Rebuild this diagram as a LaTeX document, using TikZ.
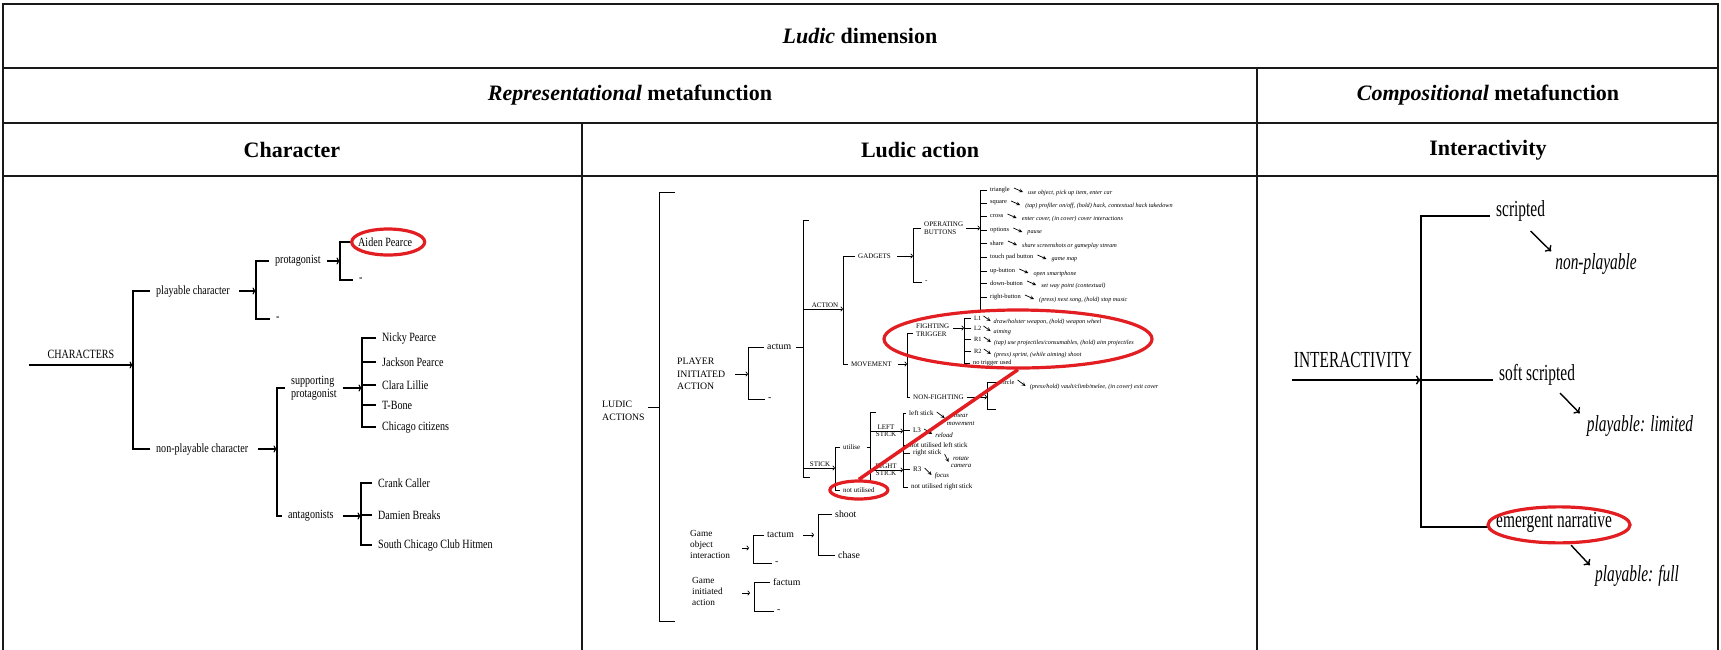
\documentclass[tikz,border=0pt]{standalone}
\usepackage{fontspec}
\setmainfont{Liberation Serif}
\newfontfamily\slimfont[FakeStretch=0.8]{Liberation Serif}
\newfontfamily\slimmerfont[FakeStretch=0.67]{Liberation Serif}
\usetikzlibrary{positioning,shapes.geometric,arrows.meta}
\definecolor{marker}{RGB}{226,30,34}

\tikzset{
  rule/.style={line width=1.8pt,draw=black!90},
  hd/.style={font=\fontsize{22}{25}\selectfont\bfseries},
  lf/.style={anchor=west,inner xsep=6pt,inner ysep=2pt,font=\slimfont\fontsize{12.6}{13.5}\selectfont,align=left},
  rt/.style={anchor=base west,inner xsep=6pt,inner ysep=2pt,font=\slimmerfont\fontsize{23}{26}\selectfont},
  rti/.style={inner sep=2pt,font=\slimmerfont\fontsize{23}{26}\selectfont\itshape},
  big/.style={anchor=west,inner xsep=3pt,inner ysep=1pt,font=\fontsize{9.8}{12.5}\selectfont,align=left},
  caps/.style={anchor=west,inner xsep=3pt,inner ysep=1pt,font=\fontsize{7}{8.5}\selectfont,align=left},
  btn/.style={anchor=west,inner xsep=3pt,inner ysep=.5pt,font=\fontsize{6.4}{7}\selectfont},
  desc/.style={anchor=west,inner sep=1pt,font=\fontsize{6.2}{7}\selectfont\itshape,align=left},
  sdesc/.style={desc,font=\fontsize{6.8}{7.5}\selectfont\itshape},
  stk/.style={anchor=west,inner xsep=3pt,inner ysep=.5pt,font=\fontsize{7}{8}\selectfont},
  brl/.style={line width=1.1pt},
  brm/.style={line width=.7pt},
  brr/.style={line width=1.4pt},
  lar/.style={brl,-{To[length=3.5pt,width=7pt]}},
  mar/.style={brm,-{To[length=2.5pt,width=5pt]}},
  sar/.style={-stealth,line width=.7pt},
  rar/.style={line width=1.4pt,-{To[length=5pt,width=9pt]}},
  ring/.style={draw=marker,line width=3.2pt,ellipse,inner sep=0pt},
}

\begin{document}
\begin{tikzpicture}[x=1pt,y=-1pt]
\fill[white] (0,0) rectangle (1721,649);
\useasboundingbox (0,0) rectangle (1721,649);

% table frame
\draw[rule] (3,660) -- (3,4) -- (1718,4) -- (1718,660);
\foreach \y in {68,123,176} \draw[rule] (3,\y) -- (1718,\y);
\draw[rule] (1257,68) -- (1257,660);
\draw[rule] (582,123) -- (582,660);

\node[hd] (dim) at (860,36) {\textit{Ludic} dimension};
\node[hd] (rep) at (630,95) {\textit{Representational} metafunction};
\node[hd] (comp) at (1488,95) {\textit{Compositional} metafunction};
\node[hd] (chr) at (292,150) {Character};
\node[hd] (lact) at (920,150) {Ludic action};
\node[hd] (intr) at (1488,150) {Interactivity};

% characters
\coordinate (s1) at (133,365);
\coordinate (s2) at (256,0);
\coordinate (s3) at (340,0);
\coordinate (s4) at (277,0);
\coordinate (s5) at (362,0);
\coordinate (s6) at (361,0);
\node[lf,anchor=center] (chars) at (81,354) {CHARACTERS};
\coordinate (cin) at (29,365);
\draw[lar] (cin) -- (s1);

\node[lf] (pc) at (150,291) {playable character};
\node[lf] (npc) at (150,449) {non-playable character};
\draw[brl] (pc.west) -- (pc.west -| s1) -- (npc.west -| s1) -- (npc.west);
\draw[lar] ([xshift=3pt]pc.east) -- (pc.east -| s2);
\draw[lar] ([xshift=4pt]npc.east) -- (npc.east -| s4);

\node[lf] (prot) at (269,261) {protagonist};
\node[lf] (pc0) at (270,319) {-};
\draw[brl] (prot.west) -- (prot.west -| s2) -- (pc0.west -| s2) -- (pc0.west);
\draw[lar] (prot.east) -- (prot.east -| s3);

\node[lf] (aiden) at (352,242) {Aiden Pearce};
\node[lf] (prot0) at (353,280) {-};
\draw[brl] (aiden.west) -- (aiden.west -| s3) -- (prot0.west -| s3) -- (prot0.west);

\node[lf] (sup) at (285,388) {supporting\\protagonist};
\node[lf] (ant) at (282,516) {antagonists};
\draw[brl] (sup.west) -- (sup.west -| s4) -- (ant.west -| s4) -- (ant.west);
\draw[lar] (sup.east) -- (sup.east -| s5);
\draw[lar] ([xshift=3pt]ant.east) -- (ant.east -| s6);

\foreach \y/\who [count=\i] in {338/Nicky Pearce,362/Jackson Pearce,385/Clara Lillie,405/T-Bone,427/Chicago citizens}
  \node[lf] (sp\i) at (376,\y) {\who};
\draw[brl] (sp1.west) -- (sp1.west -| s5) -- (sp5.west -| s5) -- (sp5.west);
\foreach \i in {2,3,4} \draw[brl] (sp\i.west) -- (sp\i.west -| s5);

\foreach \y/\who [count=\i] in {483/Crank Caller,515/Damien Breaks,545/South Chicago Club Hitmen}
  \node[lf] (an\i) at (372,\y) {\who};
\draw[brl] (an1.west) -- (an1.west -| s6) -- (an3.west -| s6) -- (an3.west);
\draw[brl] (an2.west) -- (an2.west -| s6);

% ludic actions
\coordinate (s8) at (659,0);
\coordinate (lt) at (675,192);
\coordinate (lb) at (675,621);
\draw[brm,line width=.9pt] (lt) -- (lt -| s8) -- (lb -| s8) -- (lb);
\node[big] (lud) at (599,411) {LUDIC\\ACTIONS};
\draw[brm] ([yshift=4pt]lud.east) -- ([yshift=4pt]lud.east -| s8);

\node[big] (pia) at (674,374) {PLAYER\\INITIATED\\ACTION};
\coordinate (s9) at (748,0);
\draw[mar] ([xshift=7pt]pia.east) -- (pia.east -| s9);
\node[big] (act) at (764,347) {actum};
\node[big] (act0) at (765,399) {-};
\draw[brm] (act.west) -- (act.west -| s9) -- (act0.west -| s9) -- (act0.west);
\coordinate (s10) at (803,0);
\draw[brm] ([xshift=2pt]act.east) -- (act.east -| s10);
\coordinate (ct) at (809,220);
\coordinate (cb) at (810,477);
\draw[brm] (ct) -- (ct -| s10) -- (cb -| s10) -- (cb);

\coordinate (s11) at (843,0);
\coordinate (ain) at (803,309);
\draw[mar] (ain) -- (ain -| s11);
\node[caps,above] (acl) at (825,309) {ACTION};
\node[caps] (gad) at (855,256) {GADGETS};
\node[caps] (mov) at (848,364) {MOVEMENT};
\draw[brm] (gad.west) -- (gad.west -| s11) -- (mov.west -| s11) -- (mov.west);
\coordinate (s12) at (913,0);
\draw[mar] ([xshift=3pt]gad.east) -- (gad.east -| s12);
\node[caps] (opb) at (921,228) {OPERATING\\BUTTONS};
\node[caps] (gad0) at (922,282) {-};
\draw[brm] (opb.west) -- (opb.west -| s12) -- (gad0.west -| s12) -- (gad0.west);
\coordinate (s13) at (980,0);
\draw[mar] (opb.east) -- (opb.east -| s13);

\foreach \y/\lab/\txt [count=\i] in {
  190/triangle/{use object, pick up item, enter car},
  203/square/{(tap) profiler on/off, (hold) hack, contextual hack takedown},
  216/cross/{enter cover, (in cover) cover interactions},
  230/options/{pause},
  243/share/{share screenshots or gameplay stream},
  257/touch pad button/{game map},
  271/up-button/{open smartphone},
  283/down-button/{set way point (contextual)},
  297/right-button/{(press) next song, (hold) stop music}}
{
  \node[btn] (b\i) at (987,\y) {\lab};
  \node[desc,right=14pt of b\i,yshift=-3pt] (e\i) {\txt};
  \draw[brm] (b\i.west) -- (b\i.west -| s13);
  \draw[sar] ([xshift=1pt,yshift=2pt]b\i.east) -- ([xshift=-4pt,yshift=1pt]e\i.west);
}
\coordinate (bz) at (988,310);
\draw[brm] (b1.west -| s13) -- (bz -| s13) -- (bz);

% movement
\coordinate (s14) at (907,0);
\draw[mar] ([xshift=3pt]mov.east) -- (mov.east -| s14);
\node[caps] (ft) at (913,330) {FIGHTING\\TRIGGER};
\node[caps] (nf) at (910,397) {NON-FIGHTING};
\draw[brm] ([yshift=-3pt]ft.west) -- ([yshift=-3pt]ft.west -| s14) -- (nf.west -| s14) -- (nf.west);
\coordinate (s15) at (964,0);
\draw[mar] ([xshift=1pt,yshift=2pt]ft.east) -- ([yshift=2pt]ft.east -| s15);

\foreach \y/\lab/\txt [count=\i] in {
  318/L1/{draw/holster weapon, (hold) weapon wheel},
  328/L2/{aiming},
  339/R1/{(tap) use projectiles/consumables, (hold) aim projectiles},
  351/R2/{(press) sprint, (while aiming) shoot}}
{
  \node[btn] (t\i) at (971,\y) {\lab};
  \node[desc,right=8pt of t\i,yshift=-4pt] (f\i) {\txt};
  \draw[brm] (t\i.west) -- (t\i.west -| s15);
  \draw[sar] ([xshift=-1pt,yshift=2pt]t\i.east) -- ([xshift=-2pt,yshift=1pt]f\i.west);
}
\node[btn] (ntu) at (970,363) {no trigger used};
\draw[brm] (t1.west -| s15) -- (ntu.west -| s15) -- (ntu.west);

\coordinate (s16) at (987,0);
\draw[mar] (nf.east) -- (nf.east -| s16);
\node[btn] (cir) at (997,382) {circle};
\coordinate (cz) at (996,409);
\draw[brm] (cir.west) -- (cir.west -| s16) -- (cz -| s16) -- (cz);
\node[desc,right=11pt of cir,yshift=-5pt] (ecir) {(press/hold) vault/climb/melee, (in cover) exit cover};
\draw[sar] ([yshift=2pt]cir.east) -- ([xshift=-3pt,yshift=1pt]ecir.west);

% sticks
\coordinate (sin) at (803,468);
\coordinate (s17) at (835,0);
\draw[mar] (sin) -- (sin -| s17);
\node[caps,above] (stl) at (820,468) {STICK};
\node[stk] (ut) at (840,447) {utilise};
\node[stk] (nu) at (840,490) {not utilised};
\draw[brm] (ut.west) -- (ut.west -| s17) -- (nu.west -| s17) -- (nu.west);
\coordinate (s18) at (870,0);
\draw[brm] ([xshift=3pt]ut.east) -- (ut.east -| s18);
\coordinate (st) at (876,412);
\coordinate (sb) at (876,481);
\draw[brm] (st) -- (st -| s18) -- (sb -| s18) -- (sb);
\coordinate (s19) at (903,0);
\coordinate (lin) at (870,431);
\coordinate (rin) at (870,470);
\draw[mar] (lin) -- (lin -| s19);
\draw[mar] (rin) -- (rin -| s19);
\node[stk,above,inner sep=1pt] (lft) at (886,431) {LEFT};
\node[stk,below,inner sep=1pt] (lfs) at (886,431) {STICK};
\node[stk,above,inner sep=1pt] (rgt) at (886,470) {RIGHT};
\node[stk,below,inner sep=1pt] (rgs) at (886,470) {STICK};

\foreach \y/\x/\lab/\nm in {413/906/left stick/ls,430/910/L3/l3,445/907/not utilised left stick/nul,
  453/910/right stick/rs,469/910/R3/r3,487/908/not utilised right stick/nur}
  \node[stk] (\nm) at (\x,\y) {\lab};
\draw[brm] (ls.west) -- (ls.west -| s19) -- (nur.west -| s19) -- (nur.west);
\foreach \nm in {l3,nul,rs,r3} \draw[brm] (\nm.west) -- (\nm.west -| s19);

\node[sdesc,right=9pt of ls,yshift=-6pt] (els) {\hspace*{5pt}linear\\movement};
\node[sdesc,right=10pt of l3,yshift=-5pt] (el3) {reload};
\node[sdesc,right=5pt of rs,yshift=-9pt,align=center] (ers) {rotate\\camera};
\node[sdesc,right=9pt of r3,yshift=-7pt] (er3) {focus};
\draw[sar] ([yshift=1pt]ls.east) -- ([xshift=-1pt,yshift=1pt]els.west);
\draw[sar] ([yshift=1pt]l3.east) -- ([xshift=-2pt,yshift=1pt]el3.west);
\draw[sar] ([yshift=-1pt]rs.east) -- ([xshift=-1pt]ers.west);
\draw[sar] ([yshift=1pt]r3.east) -- ([xshift=-2pt,yshift=1pt]er3.west);

% game object / game initiated
\node[big,font=\fontsize{9.3}{11}\selectfont] (goi) at (687,544) {Game\\object\\interaction};
\coordinate (s20) at (753,0);
\draw[mar] ([xshift=9pt,yshift=-4pt]goi.east) -- ([xshift=-4pt,yshift=-4pt]goi.east -| s20);
\node[big] (tac) at (764,535) {tactum};
\node[big] (tac0) at (772,563) {-};
\draw[brm] (tac.west) -- (tac.west -| s20) -- (tac0.west -| s20) -- (tac0.west);
\coordinate (s21) at (818,0);
\draw[mar] ([xshift=6pt]tac.east) -- ([xshift=-4pt]tac.east -| s21);
\node[big] (sht) at (832,514) {shoot};
\node[big] (chs) at (835,555) {chase};
\draw[brm] (sht.west) -- (sht.west -| s21) -- (chs.west -| s21) -- (chs.west);

\node[big,font=\fontsize{9.3}{11}\selectfont] (gia) at (689,591) {Game\\initiated\\action};
\coordinate (s22) at (754,0);
\draw[mar] ([xshift=16pt,yshift=-2pt]gia.east) -- ([xshift=-4pt,yshift=-2pt]gia.east -| s22);
\node[big] (fac) at (770,582) {factum};
\node[big] (fac0) at (774,611) {-};
\draw[brm] (fac.west) -- (fac.west -| s22) -- (fac0.west -| s22) -- (fac0.west);

% interactivity
\node[rt,anchor=center] (inter) at (1353,360) {INTERACTIVITY};
\coordinate (iin) at (1292,380);
\coordinate (s7) at (1421,380);
\draw[rar] (iin) -- (s7);
\node[rt] (scr) at (1490,216) {scripted};
\node[rt] (ssc) at (1493,380) {soft scripted};
\node[rt] (emn) at (1490,527) {emergent narrative};
\draw[brr] (scr.base west) -- (scr.base west -| s7) -- (emn.base west -| s7) -- (emn.base west);
\draw[brr] (ssc.base west) -- (s7);
\node[rti] (np) at (1596,264) {non-playable};
\node[rti] (pl) at (1640,426) {playable: limited};
\node[rti] (pf) at (1637,576) {playable: full};
\draw[rar] ([xshift=10pt,yshift=-8pt]scr.south) -- ([xshift=-2pt]np.north west);
\draw[rar] ([xshift=23pt,yshift=-6pt]ssc.south) -- ([xshift=-5pt]pl.north west);
\draw[rar] ([xshift=17pt,yshift=-11pt]emn.south) -- ([xshift=-3pt,yshift=-2pt]pf.north west);

% red marks
\node[ring,minimum width=73pt,minimum height=26pt] (o1) at ([xshift=3pt]aiden.center) {};
\node[ring,minimum width=268pt,minimum height=58pt] (o2) at (1018,339) {};
\node[ring,minimum width=58pt,minimum height=18pt] (o4) at (nu) {};
\draw[draw=marker,line width=3.5pt] (o2.south) -- (o4.north);
\node[ring,minimum width=142pt,minimum height=36pt] (o3) at ([xshift=5pt,yshift=-3pt]emn.center) {};
\end{tikzpicture}
\end{document}
